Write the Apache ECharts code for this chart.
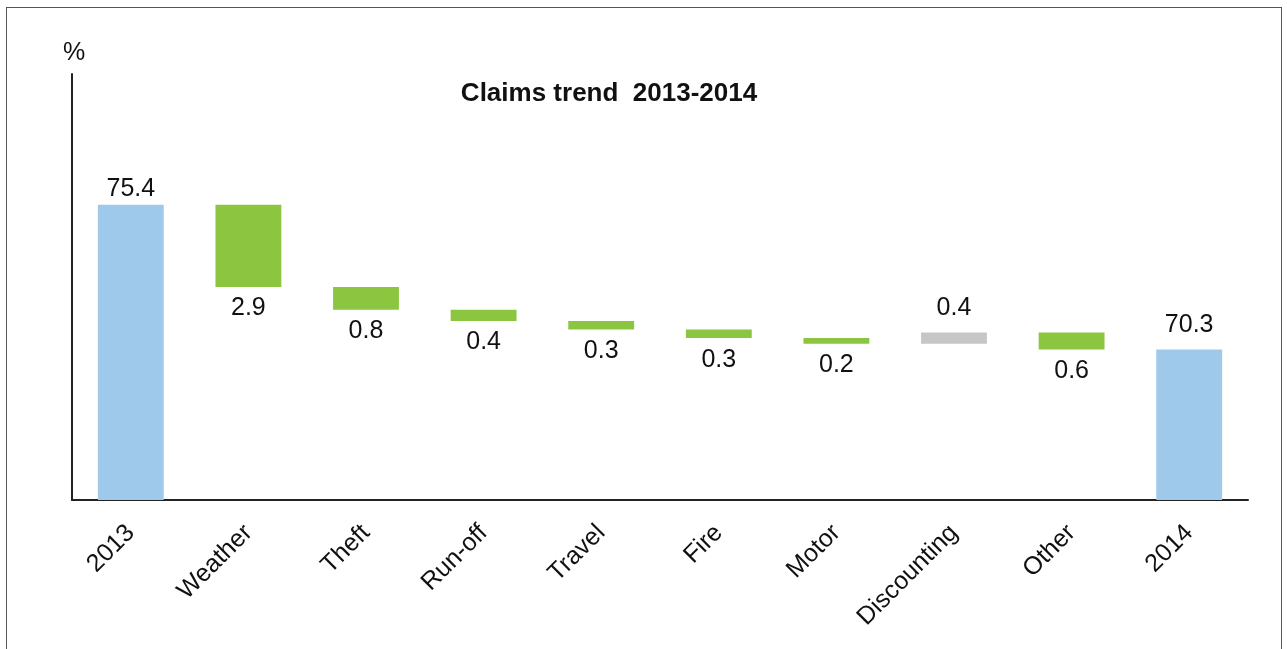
<!DOCTYPE html>
<html>
<head>
<meta charset="utf-8">
<script src="https://cdn.jsdelivr.net/npm/echarts@6/dist/echarts.min.js"></script>
<style>
  html, body { margin: 0; padding: 0; background: #fff; }
  #frame { position: absolute; left: 6px; top: 7px; width: 1276px; height: 660px; border: 1px solid #555; box-sizing: border-box; }
  #main { position: absolute; left: 0; top: 0; width: 1287px; height: 649px; }
</style>
</head>
<body>
<div id="frame"></div>
<div id="main"></div>
<script>
	// categories and changes of the claims ratio
	var categories = ['2013', 'Weather', 'Theft', 'Run-off', 'Travel', 'Fire', 'Motor', 'Discounting', 'Other', '2014'];
	var values = [75.4, -2.9, -0.8, -0.4, -0.3, -0.3, -0.2, 0.4, -0.6, 70.3];
	var kinds = ['total', 'down', 'down', 'down', 'down', 'down', 'down', 'up', 'down', 'total'];

	var colors = { total: '#9fc9ea', down: '#8cc540', up: '#c6c6c6' };

	// build waterfall: invisible base + visible piece
	var base = [], shown = [], running = 0;
	for (var i = 0; i < values.length; i++) {
		var v = values[i], k = kinds[i];
		if (k == 'total') {
			running = v;
			base.push(0);
			shown.push({ value: v, itemStyle: { color: colors.total }, label: { position: 'top', distance: i == 0 ? 3 : 12 } });
		} else if (k == 'down') {
			running = +(running + v).toFixed(1);
			base.push(running);
			shown.push({ value: -v, itemStyle: { color: colors.down }, label: { position: 'bottom', distance: 9 } });
		} else {
			base.push(running);
			running = +(running + v).toFixed(1);
			shown.push({ value: v, itemStyle: { color: colors.up }, label: { position: 'top', distance: 12 } });
		}
	}

	var font = 'Liberation Sans, Arial, sans-serif';
	var vm = echarts.init(document.getElementById('main'));
	var option = {
		animation: false,
		textStyle: { fontFamily: font },
		title: {
			text: 'Claims trend  2013-2014',
			left: 604, top: 76, textAlign: 'center',
			textStyle: { fontSize: 26, fontWeight: 'bold', color: '#111', fontFamily: font }
		},
		grid: { left: 72, right: 39, top: 74, bottom: 149 },
		xAxis: {
			type: 'category',
			data: categories,
			axisLine: { lineStyle: { color: '#222', width: 2 } },
			axisTick: { length: 7, lineStyle: { color: '#222', width: 2 } },
			axisLabel: { rotate: 45, fontSize: 25, color: '#111', margin: 29 }
		},
		yAxis: {
			type: 'value',
			min: 65, max: 80,
			name: '%',
			nameLocation: 'end',
			nameGap: 8,
			nameTextStyle: { fontSize: 25, color: '#111', align: 'left', padding: [0, 0, 0, -9] },
			axisLine: { show: true, lineStyle: { color: '#222', width: 2 } },
			axisTick: { show: false },
			axisLabel: { show: false },
			splitLine: { show: false }
		},
		series: [
			{
				type: 'bar', stack: 'w', data: base, barWidth: '56%',
				itemStyle: { color: 'transparent' }, silent: true
			},
			{
				type: 'bar', stack: 'w', data: shown, barWidth: '56%',
				label: { show: true, fontSize: 25, color: '#111', formatter: function (p) {
					return Math.abs(values[p.dataIndex]).toFixed(1);
				} }
			}
		]
	};
	vm.setOption(option);
</script>
</body>
</html>
